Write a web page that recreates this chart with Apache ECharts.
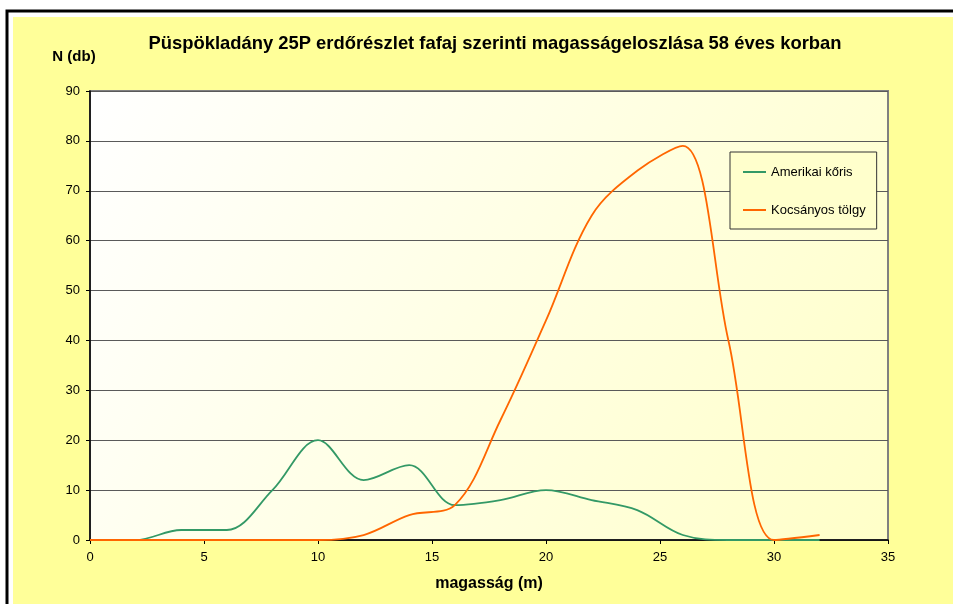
<!DOCTYPE html>
<html>
<head>
<meta charset="utf-8">
<script src="https://cdn.jsdelivr.net/npm/echarts@6/dist/echarts.min.js"></script>
<style>
  html, body { margin: 0; padding: 0; background: #ffffff; }
  #chart { width: 953px; height: 604px; }
</style>
</head>
<body>
<div id="chart"></div>
<script>
// Data
const heights = [0, 2, 4, 6, 8, 10, 12, 14, 16, 18, 20, 22, 24, 26, 28, 30, 32];
const amerikaiKoris = [0, 0, 2, 2, 10, 20, 12, 15, 7, 8, 10, 8, 6, 1, 0, 0, 0];
const kocsanyosTolgy = [0, 0, 0, 0, 0, 0, 1, 5, 7, 24, 44, 65, 74, 79, 40, 0, 1];
const seriesNames = ['Amerikai kőris', 'Kocsányos tölgy'];
const xTicks = { min: 0, max: 35, interval: 5 };
const yTicks = { min: 0, max: 90, interval: 10 };
const titleText = 'Püspökladány 25P erdőrészlet fafaj szerinti magasságeloszlása 58 éves korban';
const yName = 'N (db)';
const xName = 'magasság (m)';

function pairs(xs, ys) { return xs.map((x, i) => [x, ys[i]]); }

const FONT = 'Liberation Sans, Arial, sans-serif';
const chart = echarts.init(document.getElementById('chart'));
chart.setOption({
  backgroundColor: '#ffffff',
  animation: false,
  textStyle: { fontFamily: FONT },
  graphic: [
    { type: 'rect', z: -20, silent: true,
      shape: { x: 7, y: 11, width: 1000, height: 700 },
      style: { fill: '#ffffff', stroke: '#000000', lineWidth: 3 } },
    { type: 'rect', z: -19, silent: true,
      shape: { x: 13, y: 17, width: 1000, height: 700 },
      style: { fill: '#FFFF99' } }
  ],
  title: [
    { text: titleText, left: 490, textAlign: 'center', top: 30,
      textStyle: { fontFamily: FONT, fontSize: 18.4, fontWeight: 'bold', color: '#000' } },
    { text: yName, left: 69, textAlign: 'center', top: 44,
      textStyle: { fontFamily: FONT, fontSize: 15, fontWeight: 'bold', color: '#000' } }
  ],
  legend: {
    data: seriesNames,
    orient: 'vertical',
    left: 730, top: 152,
    padding: [13, 11, 12, 13],
    itemWidth: 23, itemHeight: 2, itemGap: 24,
    icon: 'rect',
    backgroundColor: '#FFFFCC',
    borderColor: '#333333', borderWidth: 1,
    textStyle: { fontFamily: FONT, fontSize: 13, color: '#000', lineHeight: 14 }
  },
  grid: {
    left: 90, top: 91, right: 65, bottom: 64,
    show: true,
    borderColor: '#808080', borderWidth: 2,
    backgroundColor: new echarts.graphic.LinearGradient(0, 0, 1, 1, [
      { offset: 0, color: '#FFFFFF' },
      { offset: 1, color: '#FFFFC8' }
    ])
  },
  xAxis: {
    type: 'value', min: xTicks.min, max: xTicks.max, interval: xTicks.interval,
    name: xName, nameLocation: 'middle', nameGap: 36,
    nameTextStyle: { fontFamily: FONT, fontSize: 16, fontWeight: 'bold', color: '#000' },
    axisLine: { show: true, onZero: false, lineStyle: { color: '#000', width: 1.5 } },
    axisTick: { show: true, length: 4, lineStyle: { color: '#000' } },
    axisLabel: { fontFamily: FONT, fontSize: 13, color: '#000', margin: 11 },
    splitLine: { show: false }
  },
  yAxis: {
    type: 'value', min: yTicks.min, max: yTicks.max, interval: yTicks.interval,
    axisLine: { show: true, lineStyle: { color: '#000', width: 1.5 } },
    axisTick: { show: true, length: 4, lineStyle: { color: '#000' } },
    axisLabel: { fontFamily: FONT, fontSize: 13, color: '#000', margin: 10 },
    splitLine: { show: true, lineStyle: { color: '#5a5a5a', width: 1 } }
  },
  series: [
    { name: seriesNames[0], type: 'line', smooth: 0.35, symbol: 'none',
      data: pairs(heights, amerikaiKoris),
      lineStyle: { color: '#339966', width: 1.8 }, itemStyle: { color: '#339966' } },
    { name: seriesNames[1], type: 'line', smooth: 0.35, symbol: 'none',
      data: pairs(heights, kocsanyosTolgy),
      lineStyle: { color: '#FF6600', width: 1.8 }, itemStyle: { color: '#FF6600' } }
  ]
});
</script>
</body>
</html>
